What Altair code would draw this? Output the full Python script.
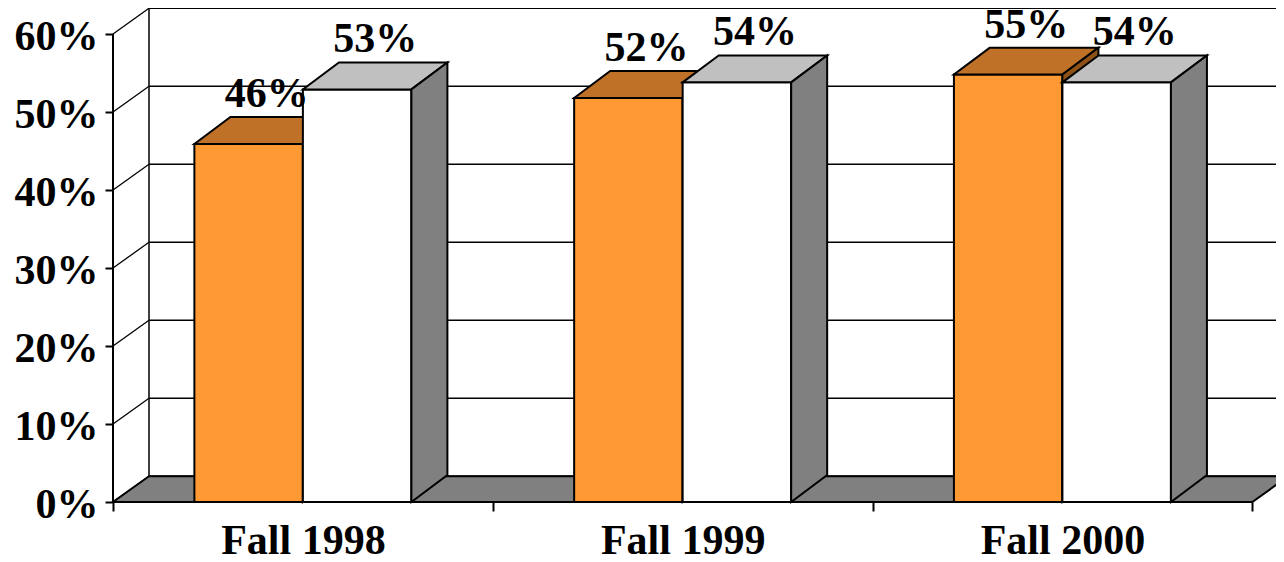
import altair as alt
import pandas as pd

# ---- data ----
categories = ["Fall 1998", "Fall 1999", "Fall 2000"]
series_orange = [45.9, 51.8, 54.8]
series_white = [52.9, 53.8, 53.8]
y_ticks = [0, 10, 20, 30, 40, 50, 60]

# ---- geometry / style constants ----
CAT_PX = 379.77          # pixels per category
PX_PER_PCT = 7.8         # pixels per percentage point
W, H = 1163, 494         # plot area
X_MAX = W / CAT_PX
Y_MAX = H / PX_PER_PCT
BAR_W = 1 / 3.5          # gap width 150%
DU = 36 / CAT_PX         # depth offset (x)
DV_WALL = 3.3            # depth offset (y) of walls / floor
DV_BAR = 3.45            # depth offset (y) of bars
FONT = "Liberation Serif"
FS = 42

C_OR_FRONT, C_OR_TOP, C_OR_SIDE = "#FF9933", "#C07128", "#8E5218"
C_WH_FRONT, C_WH_TOP, C_WH_SIDE = "#FFFFFF", "#C0C0C0", "#808080"
C_FLOOR = "#808080"

xs = alt.Scale(domain=[0, X_MAX], nice=False, zero=False)
ys = alt.Scale(domain=[0, Y_MAX], nice=False, zero=False)

# ---- derived tables ----
bars = []
for i, cat in enumerate(categories):
    c = i + 0.5
    bars.append(dict(cat=cat, s="orange", v=series_orange[i], left=c - BAR_W, right=c,
                     front=C_OR_FRONT, top=C_OR_TOP, side=C_OR_SIDE))
    bars.append(dict(cat=cat, s="white", v=series_white[i], left=c, right=c + BAR_W,
                     front=C_WH_FRONT, top=C_WH_TOP, side=C_WH_SIDE))
bars_df = pd.DataFrame(bars)
bars_df["y0"] = 0.0
bars_df["id"] = bars_df["cat"] + "-" + bars_df["s"]

tops, sides = [], []
for _, b in bars_df.iterrows():
    tops.append(dict(id=b.id, s=b.s, col=b.top, y=b.v, x=b.left, x2=b.right))
    tops.append(dict(id=b.id, s=b.s, col=b.top, y=b.v + DV_BAR, x=b.left + DU, x2=b.right + DU))
    sides.append(dict(id=b.id, s=b.s, col=b.side, x=b.right, y=b.v, y2=0.0))
    sides.append(dict(id=b.id, s=b.s, col=b.side, x=b.right + DU, y=b.v + DV_BAR, y2=DV_BAR))
tops_df = pd.DataFrame(tops)
sides_df = pd.DataFrame(sides)

labels_df = bars_df.copy()
labels_df["lx"] = (labels_df["left"] + labels_df["right"]) / 2 + DU / 2
labels_df["ly"] = labels_df["v"] + DV_BAR
labels_df["txt"] = labels_df["v"].map(lambda v: f"{v:.0f}%")

grid_df = pd.DataFrame({"v": y_ticks})
grid_df["x0"] = 0.0
grid_df["x1"] = DU
grid_df["xend"] = X_MAX + 0.1
grid_df["vb"] = grid_df["v"] + DV_WALL

n = len(categories)
floor_df = pd.DataFrame([
    dict(y=0.0, x=0.0, x2=float(n)),
    dict(y=DV_WALL, x=DU, x2=n + DU),
])
axis_df = pd.DataFrame([dict(x=0.0, y=0.0, y2=float(max(y_ticks)),
                             xb=DU, yb=DV_WALL, yb2=max(y_ticks) + DV_WALL)])

# ---- axes ----
label_arr = "[" + ",".join(f"'{c}'" for c in categories) + ",'']"
x_axis = alt.Axis(values=list(range(n + 1)), domain=False, grid=False, title=None,
                  tickSize=9, tickWidth=2, tickColor="black",
                  labelExpr=f"{label_arr}[datum.value]", labelOffset=CAT_PX / 2,
                  labelFont=FONT, labelFontSize=FS, labelFontWeight="bold", labelColor="black",
                  labelBaseline="alphabetic", labelPadding=42, labelAlign="center",
                  labelFlush=False, labelOverlap=False, labelBound=False)
y_axis = alt.Axis(values=y_ticks, domain=False, grid=False, title=None,
                  tickSize=8, tickWidth=2, tickColor="black",
                  labelExpr="datum.value + '%'", labelFont=FONT, labelFontSize=FS,
                  labelFontWeight="bold", labelColor="black", labelAlign="right",
                  labelBaseline="alphabetic", labelOffset=15, labelPadding=7,
                  labelOverlap=False, labelBound=False, labelFlush=False)


def X(f):
    return alt.X(f, scale=xs, axis=x_axis, title=None)


def Y(f):
    return alt.Y(f, scale=ys, axis=y_axis, title=None, stack=None)


base_grid = alt.Chart(grid_df)

side_wall = base_grid.mark_rule(color="black", strokeWidth=1.3).encode(
    x=X("x0:Q"), x2="x1:Q", y=Y("v:Q"), y2="vb:Q")
back_grid = base_grid.mark_rule(color="black", strokeWidth=1.3).encode(
    x=X("x1:Q"), x2="xend:Q", y=Y("vb:Q"))
back_edge = alt.Chart(axis_df).mark_rule(color="black", strokeWidth=1.5).encode(
    x=X("xb:Q"), y=Y("yb:Q"), y2="yb2:Q")
front_axis = alt.Chart(axis_df).mark_rule(color="black", strokeWidth=2).encode(
    x=X("x:Q"), y=Y("y:Q"), y2="y2:Q")
floor = alt.Chart(floor_df).mark_area(orient="horizontal", fill=C_FLOOR, stroke="black",
                                      strokeWidth=2, strokeJoin="miter").encode(
    y=Y("y:Q"), x=X("x:Q"), x2="x2:Q")


def bar_layers(series):
    fr = alt.Chart(bars_df[bars_df.s == series]).mark_rect(
        stroke="black", strokeWidth=2, strokeJoin="miter").encode(
        x=X("left:Q"), x2="right:Q", y=Y("y0:Q"), y2="v:Q",
        fill=alt.Fill("front:N", scale=None))
    tp = alt.Chart(tops_df[tops_df.s == series]).mark_area(
        orient="horizontal", stroke="black", strokeWidth=2, strokeJoin="miter").encode(
        y=Y("y:Q"), x=X("x:Q"), x2="x2:Q",
        detail="id:N", fill=alt.Fill("col:N", scale=None))
    sd = alt.Chart(sides_df[sides_df.s == series]).mark_area(
        orient="vertical", stroke="black", strokeWidth=2, strokeJoin="miter").encode(
        x=X("x:Q"), y=Y("y:Q"), y2="y2:Q",
        detail="id:N", fill=alt.Fill("col:N", scale=None))
    return [fr, tp, sd]


labels = alt.Chart(labels_df).mark_text(
    font=FONT, fontSize=FS, fontWeight="bold", color="black",
    align="center", baseline="alphabetic", dy=-10).encode(
    x=X("lx:Q"), y=Y("ly:Q"), text="txt:N")

chart = alt.layer(
    side_wall, back_grid, back_edge, floor, front_axis,
    *bar_layers("orange"), *bar_layers("white"), labels
).properties(
    width=W, height=H, autosize="none",
    padding={"left": 105, "top": 0, "right": 0, "bottom": 52},
    background="white",
).configure_view(stroke=None)

chart.save("out.html", embed_options={"renderer": "svg", "actions": False})
